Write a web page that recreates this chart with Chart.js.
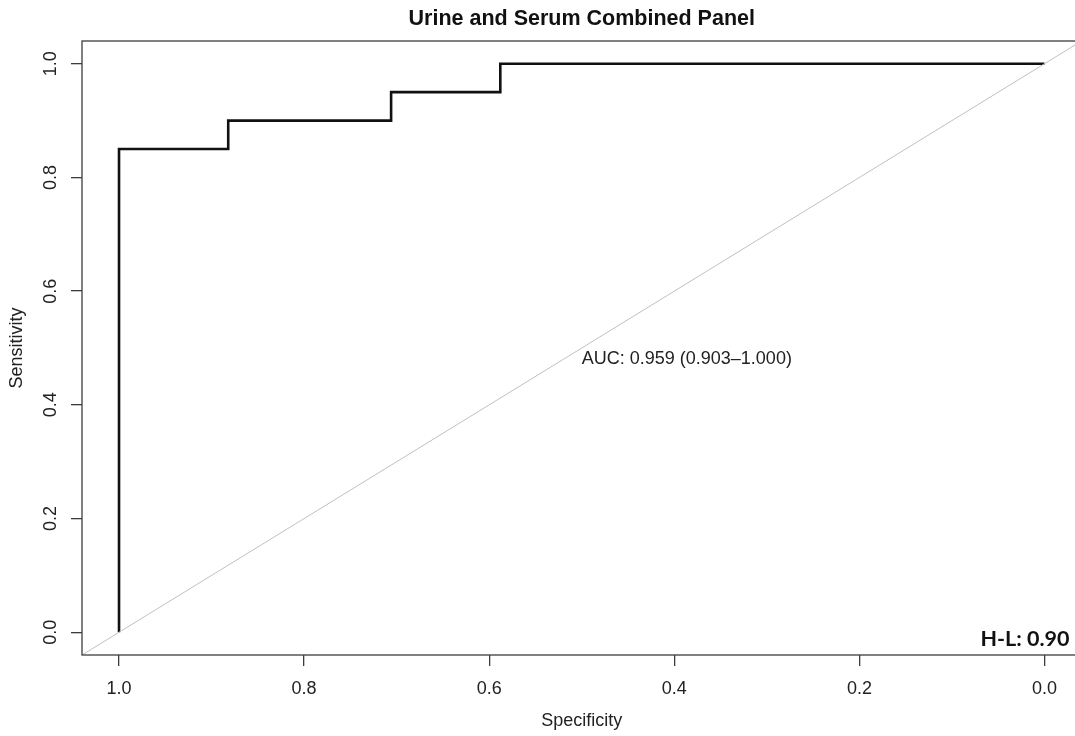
<!DOCTYPE html>
<html>
<head>
<meta charset="utf-8">
<script src="https://cdn.jsdelivr.net/npm/chart.js@4/dist/chart.umd.min.js"></script>
<style>
  html, body { margin: 0; padding: 0; background: #fff; overflow: hidden; }
  #wrap { width: 1075px; height: 736px; overflow: hidden; }
</style>
</head>
<body>
<div id="wrap"><canvas id="roc" width="1164" height="736"></canvas></div>
<script>
// ROC curve (step points), specificity on a reversed x axis
var specificity = [1.0, 1.0, 0.882, 0.882, 0.706, 0.706, 0.588, 0.588, 0.0];
var sensitivity = [0.0, 0.85, 0.85, 0.90, 0.90, 0.95, 0.95, 1.0, 1.0];

// chance line, corner to corner of the plot region
var chanceSpec = [1.04, -0.04];
var chanceSens = [-0.04, 1.04];

var xTicks = [1.0, 0.8, 0.6, 0.4, 0.2, 0.0];
var yTicks = [0.0, 0.2, 0.4, 0.6, 0.8, 1.0];

var titleText = 'Urine and Serum Combined Panel';
var aucText = 'AUC: 0.959 (0.903\u20131.000)';
var aucPos = { x: 0.5, y: 0.5 };
var hlText = 'H-L: 0.90';

var axisFont = { family: 'Liberation Sans, Arial, sans-serif', size: 18 };
var inkColor = '#222';

function toPoints(xs, ys) {
    return xs.map(function(x, i) { return { x: x, y: ys[i] }; });
}

// box around the plot region plus the two text annotations
var plotExtras = {
    id: 'plotExtras',
    afterDraw: function(chart) {
        var ctx = chart.ctx;
        var a = chart.chartArea;
        var xs = chart.scales.x, ys = chart.scales.y;
        ctx.save();
        ctx.strokeStyle = '#3c3c3c';
        ctx.lineWidth = 1.3;
        ctx.strokeRect(a.left, a.top, a.right - a.left, a.bottom - a.top);

        ctx.fillStyle = inkColor;
        ctx.font = '18px "Liberation Sans", Arial, sans-serif';
        ctx.textAlign = 'left';
        ctx.textBaseline = 'alphabetic';
        ctx.fillText(aucText, xs.getPixelForValue(aucPos.x), ys.getPixelForValue(aucPos.y) + 16);

        ctx.fillStyle = '#111';
        ctx.font = 'bold 21.5px Lato, "Open Sans", sans-serif';
        ctx.textAlign = 'right';
        ctx.fillText(hlText, xs.getPixelForValue(0.0) + 25, a.bottom - 9.5);
        ctx.restore();
    }
};

var ctx = document.getElementById('roc').getContext('2d');

var rocChart = new Chart(ctx, {
    type: 'scatter',
    data: {
        datasets: [{
            label: 'chance',
            data: toPoints(chanceSpec, chanceSens),
            showLine: true,
            borderColor: '#c0c0c0',
            borderWidth: 1,
            pointRadius: 0
        }, {
            label: 'ROC',
            data: toPoints(specificity, sensitivity),
            showLine: true,
            borderColor: '#111',
            borderWidth: 2.6,
            pointRadius: 0
        }]
    },
    options: {
        responsive: false,
        animation: false,
        events: [],
        layout: { padding: { left: 0, right: 82.5, top: 0, bottom: 0 } },
        plugins: {
            legend: { display: false },
            tooltip: { enabled: false },
            title: {
                display: true,
                text: titleText,
                fullSize: false,
                color: '#111',
                font: { family: 'Liberation Sans, Arial, sans-serif', size: 21.5, weight: 'bold' },
                padding: { top: 6, bottom: 9.2 }
            }
        },
        scales: {
            x: {
                type: 'linear',
                reverse: true,
                min: -0.04,
                max: 1.04,
                afterBuildTicks: function(s) {
                    s.ticks = xTicks.map(function(v) { return { value: v }; });
                },
                afterFit: function(s) { s.height = 81; },
                grid: { drawOnChartArea: false, drawTicks: true, tickLength: 11, color: '#3c3c3c', lineWidth: 1.3 },
                border: { display: false },
                ticks: {
                    color: inkColor,
                    font: axisFont,
                    padding: 12.5,
                    maxRotation: 0,
                    autoSkip: false,
                    callback: function(v) { return v.toFixed(1); }
                },
                title: { display: true, text: 'Specificity', color: inkColor, font: axisFont, padding: 4 }
            },
            y: {
                type: 'linear',
                min: -0.04,
                max: 1.04,
                afterBuildTicks: function(s) {
                    s.ticks = yTicks.map(function(v) { return { value: v }; });
                },
                afterFit: function(s) { s.width = 82; },
                grid: { drawOnChartArea: false, drawTicks: true, tickLength: 11, color: '#3c3c3c', lineWidth: 1.3 },
                border: { display: false },
                ticks: {
                    color: inkColor,
                    font: axisFont,
                    padding: 7.5,
                    minRotation: 90,
                    maxRotation: 90,
                    crossAlign: 'center',
                    autoSkip: false,
                    callback: function(v) { return v.toFixed(1); }
                },
                title: { display: true, text: 'Sensitivity', color: inkColor, font: axisFont, padding: 6 }
            }
        }
    },
    plugins: [plotExtras]
});
</script>
</body>
</html>
